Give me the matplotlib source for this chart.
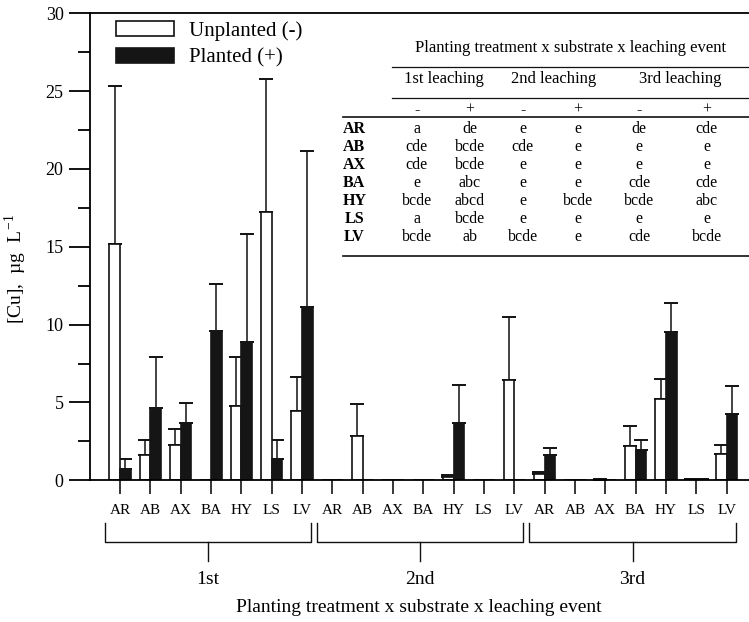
import numpy as np
import matplotlib
matplotlib.use("Agg")
import matplotlib.pyplot as plt
import matplotlib.transforms as mtransforms
from matplotlib.lines import Line2D
from matplotlib.ticker import MultipleLocator

plt.rcParams['font.family'] = ['Liberation Serif', 'DejaVu Serif']
plt.rcParams['mathtext.fontset'] = 'stix'

# substrates and leaching events
subs = ['AR', 'AB', 'AX', 'BA', 'HY', 'LS', 'LV']
events = ['1st', '2nd', '3rd']

# mean [Cu] (ug/L) and error, per event, order of subs
unpl_1 = [15.2, 1.6, 2.25, 0, 4.8, 17.25, 4.45]
unpl_1_err = [10.15, 1.0, 1.05, 0, 3.1, 8.55, 2.2]
pl_1 = [0.72, 4.65, 3.65, 9.6, 8.9, 1.4, 11.15]
pl_1_err = [0.66, 3.25, 1.33, 3.0, 6.9, 1.22, 10.0]

unpl_2 = [0, 2.87, 0, 0, 0.2, 0, 6.43]
unpl_2_err = [0, 2.03, 0, 0, 0.15, 0, 4.07]
pl_2 = [0, 0, 0, 0, 3.7, 0, 0]
pl_2_err = [0, 0, 0, 0, 2.45, 0, 0]

unpl_3 = [0.4, 0, 0.05, 2.2, 5.2, 0.06, 1.67]
unpl_3_err = [0.15, 0, 0.03, 1.28, 1.3, 0.03, 0.59]
pl_3 = [1.6, 0, 0, 1.95, 9.53, 0.06, 4.26]
pl_3_err = [0.5, 0, 0, 0.62, 1.87, 0.03, 1.8]

# letters of the significance table
tab_rows = ['AR', 'AB', 'AX', 'BA', 'HY', 'LS', 'LV']
tab_AR = ['a', 'de', 'e', 'e', 'de', 'cde']
tab_AB = ['cde', 'bcde', 'cde', 'e', 'e', 'e']
tab_AX = ['cde', 'bcde', 'e', 'e', 'e', 'e']
tab_BA = ['e', 'abc', 'e', 'e', 'cde', 'cde']
tab_HY = ['bcde', 'abcd', 'e', 'bcde', 'bcde', 'abc']
tab_LS = ['a', 'bcde', 'e', 'e', 'e', 'e']
tab_LV = ['bcde', 'ab', 'bcde', 'e', 'cde', 'bcde']
tab_cells = [tab_AR, tab_AB, tab_AX, tab_BA, tab_HY, tab_LS, tab_LV]
tab_signs = ['-', '+', '-', '+', '-', '+']
tab_events = ['1st leaching', '2nd leaching', '3rd leaching']

W, H = 749, 622
fig = plt.figure(figsize=(W / 100, H / 100), dpi=100)

def fx(x):
    return x / W

def fy(y):
    return 1 - y / H

ax = fig.add_axes([fx(90), fy(480.3), 659 / W, 467 / H])

unpl = np.array(unpl_1 + unpl_2 + unpl_3)
unpl_err = np.array(unpl_1_err + unpl_2_err + unpl_3_err)
pl = np.array(pl_1 + pl_2 + pl_3)
pl_err = np.array(pl_1_err + pl_2_err + pl_3_err)
x = np.arange(len(unpl))
w = 0.353

b1 = ax.bar(x - w / 2, unpl, w, color='white', edgecolor='#111111', linewidth=1.2,
            label='Unplanted (-)', zorder=2)
b2 = ax.bar(x + w / 2, pl, w, color='#151515', edgecolor='#151515', linewidth=1.2,
            label='Planted (+)', zorder=2)

m = unpl_err > 0
ax.errorbar(x[m] - w / 2, unpl[m], yerr=[np.zeros(m.sum()), unpl_err[m]], fmt='none',
            ecolor='#111111', elinewidth=1.1, capsize=5.2, capthick=1.4, zorder=1)
m = pl_err > 0
ax.errorbar(x[m] + w / 2, pl[m], yerr=[np.zeros(m.sum()), pl_err[m]], fmt='none',
            ecolor='#111111', elinewidth=1.1, capsize=5.2, capthick=1.4, zorder=1)

ax.set_xlim(-0.99, 20.74)
ax.set_ylim(0, 30)
ax.yaxis.set_major_locator(MultipleLocator(5))
ax.yaxis.set_minor_locator(MultipleLocator(2.5))
ax.set_xticks(x)
ax.set_xticklabels(subs * 3, fontsize=11)
ax.tick_params(axis='x', direction='out', length=10, width=1.1, pad=7)
ax.tick_params(axis='y', which='major', direction='out', length=15, width=1.3,
               labelsize=13, pad=4)
ax.tick_params(axis='y', which='minor', direction='out', length=9, width=1.3)
for s in ['left', 'bottom', 'top']:
    ax.spines[s].set_linewidth(1.3)
ax.spines['right'].set_visible(False)

ax.set_ylabel('[Cu],  µg  L$^{\\,\\mathregular{-1}}$', fontsize=14)
ax.yaxis.set_label_coords(-0.092, 0.453)

# brackets under the substrate labels
trans = mtransforms.blended_transform_factory(ax.transData, ax.transAxes)
def ay(y):
    return (480.3 - y) / 467

for g, ev in enumerate(events):
    l, r = 7 * g - 0.5, 7 * g + 6.3
    ax.plot([l, l, r, r], [ay(523), ay(542), ay(542), ay(523)], color='#111111',
            lw=1.0, transform=trans, clip_on=False)
    c = (l + r) / 2
    ax.plot([c, c], [ay(542), ay(561)], color='#111111', lw=1.0,
            transform=trans, clip_on=False)
    ax.text(c, ay(579), ev, transform=trans, ha='center', va='center', fontsize=14)

fig.text(fx(419), fy(608), 'Planting treatment x substrate x leaching event',
         ha='center', va='center', fontsize=14)

ax.legend(handles=[b1, b2], loc='upper left', frameon=False, fontsize=15,
          handlelength=2.82, handleheight=0.69, handletextpad=0.72,
          labelspacing=0.37, borderpad=0, borderaxespad=0,
          bbox_to_anchor=(fx(115.7), fy(21)), bbox_transform=fig.transFigure)

# significance table
def hline(x0, x1, y, lw):
    fig.add_artist(Line2D([fx(x0), fx(x1)], [fy(y), fy(y)], color='#111111', lw=lw,
                          transform=fig.transFigure))

fig.text(fx(571), fy(48.3), 'Planting treatment x substrate x leaching event',
         ha='center', va='center', fontsize=12)
hline(391.7, W, 66.7, 0.9)
ev_x = [444.3, 553.3, 680]
for xe, t in zip(ev_x, tab_events):
    fig.text(fx(xe), fy(79.3), t, ha='center', va='center', fontsize=12)
hline(391.7, W, 98.3, 0.9)
col_x = [416.7, 470, 522.7, 577.7, 639.3, 706.7]
for xc, s in zip(col_x, tab_signs):
    fig.text(fx(xc), fy(110), s, ha='center', va='center', fontsize=11.5)
hline(343, W, 117.3, 1.2)
for i, (rname, cells) in enumerate(zip(tab_rows, tab_cells)):
    yy = 129.3 + i * 17.9
    fig.text(fx(354.3), fy(yy), rname, ha='center', va='center', fontsize=11.5,
             fontweight='bold')
    for xc, c in zip(col_x, cells):
        fig.text(fx(xc), fy(yy), c, ha='center', va='center', fontsize=11.5)
hline(343, W, 256, 1.2)

fig.savefig('out.png', dpi=100)
